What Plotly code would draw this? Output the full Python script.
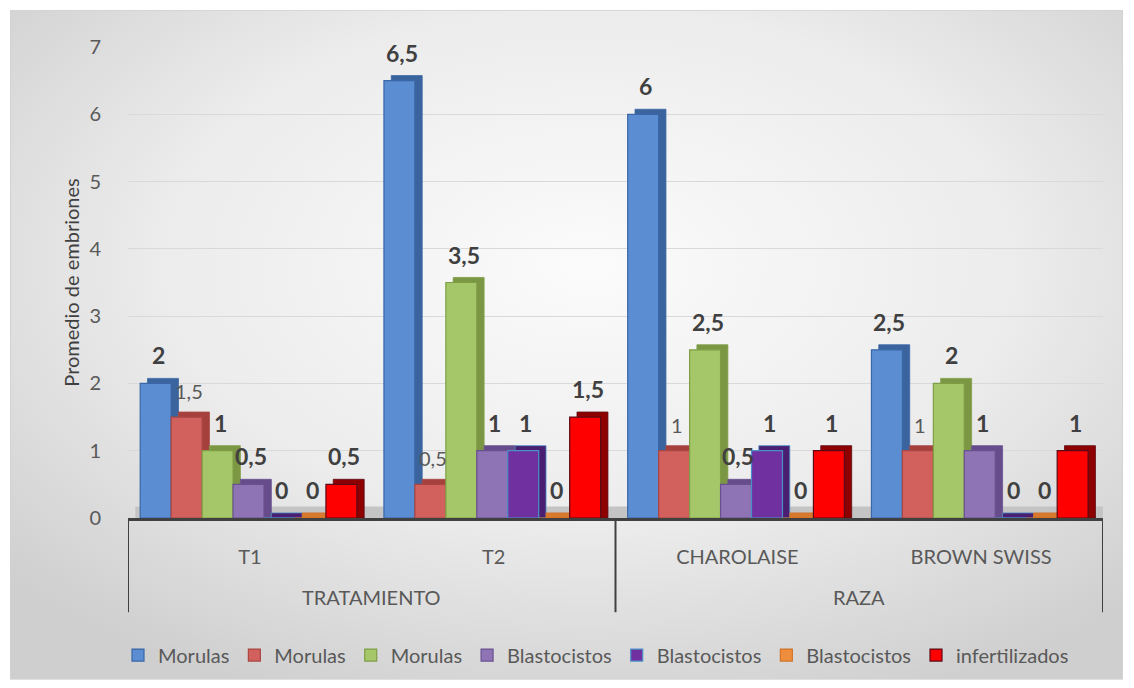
import base64
import plotly.graph_objects as go

# ---- data -------------------------------------------------------------
categories = ["T1", "T2", "CHAROLAISE", "BROWN SWISS"]
category_groups = ["TRATAMIENTO", "TRATAMIENTO", "RAZA", "RAZA"]

series_names = ["Morulas", "Morulas", "Morulas",
                "Blastocistos", "Blastocistos", "Blastocistos",
                "infertilizados"]

morulas_1 = [2, 6.5, 6, 2.5]
morulas_2 = [1.5, 0.5, 1, 1]
morulas_3 = [1, 3.5, 2.5, 2]
blastocistos_1 = [0.5, 1, 0.5, 1]
blastocistos_2 = [0, 1, 1, 0]
blastocistos_3 = [0, 0, 0, 0]
infertilizados = [0.5, 1.5, 1, 1]

series_values = [morulas_1, morulas_2, morulas_3,
                 blastocistos_1, blastocistos_2, blastocistos_3,
                 infertilizados]

y_ticks = [0, 1, 2, 3, 4, 5, 6, 7]

# ---- styling ----------------------------------------------------------
# (front fill, outline, side/depth face, label bold, label size, label colour)
styles = [
    ("#5B8DD3", "#3A67A6", "#3B649E", True, 23, "#404040"),
    ("#D2615E", "#A94643", "#A5403D", False, 20, "#595959"),
    ("#A6C66A", "#7E9E44", "#7C9743", True, 23, "#404040"),
    ("#8E74B5", "#6A5090", "#664C8A", True, 23, "#404040"),
    ("#7030A0", "#4A90C8", "#4A1E70", True, 23, "#404040"),
    ("#EE8D3E", "#D07428", "#D9792E", True, 23, "#404040"),
    ("#FF0000", "#5A0A14", "#8E0000", True, 23, "#404040"),
]

FONT = "Lato, 'Open Sans', sans-serif"
step = 0.127          # width of one bar in category units
start = -0.45         # left edge of first bar relative to category centre
depth_x = 0.03        # horizontal depth of the extrusion
depth_y = 0.075       # vertical depth of the extrusion

positions = list(range(len(categories)))


def fmt(v):
    return f"{v:g}".replace(".", ",")


fig = go.Figure()
annotations = []

for i, (name, vals) in enumerate(zip(series_names, series_values)):
    fill, line, side, bold, size, tcol = styles[i]
    off = start + i * step
    # depth face, drawn first so the next bar's front covers it
    fig.add_trace(go.Bar(
        x=positions, y=[v + depth_y for v in vals],
        offset=off + depth_x, width=step,
        marker=dict(color=side, line=dict(color=line, width=0.8)),
        showlegend=False, hoverinfo="skip",
    ))
    # front face
    fig.add_trace(go.Bar(
        x=positions, y=vals, name=name,
        offset=off, width=step,
        marker=dict(color=fill, line=dict(color=line, width=1.2)),
    ))
    for p, v in zip(positions, vals):
        txt = fmt(v)
        if bold:
            txt = f"<b>{txt}</b>"
        annotations.append(dict(
            x=p + off + step / 2 + 0.01, y=v, xref="x", yref="y",
            text=txt, showarrow=False, yanchor="bottom", yshift=12,
            font=dict(family=FONT, size=size, color=tcol),
        ))

# outer category labels, centred under their inner categories
seen = []
for g in category_groups:
    if g not in seen:
        seen.append(g)
for g in seen:
    idx = [p for p, cg in zip(positions, category_groups) if cg == g]
    annotations.append(dict(
        x=sum(idx) / len(idx), y=-0.168, xref="x", yref="paper",
        text=g, showarrow=False, yanchor="middle",
        font=dict(family=FONT, size=20, color="#595959"),
    ))

# dividers of the two-level category axis
shapes = []
bounds = [positions[0] - 0.5]
for k in range(1, len(positions)):
    if category_groups[k] != category_groups[k - 1]:
        bounds.append(positions[k] - 0.5)
bounds.append(positions[-1] + 0.5)
for b in bounds:
    shapes.append(dict(type="line", xref="x", yref="paper",
                       x0=b, x1=b, y0=0, y1=-0.2,
                       line=dict(color="#404040", width=2)))

# floor slab under the columns
shapes.append(dict(type="rect", xref="x", yref="y", layer="between",
                   x0=positions[0] + start - 0.02, x1=positions[-1] + 0.5,
                   y0=0, y1=0.17, fillcolor="#c4c4c4",
                   line=dict(width=0)))

# soft radial background for the whole chart area
svg = (
    '<svg xmlns="http://www.w3.org/2000/svg" width="1113" height="670" '
    'viewBox="0 0 1113 670" preserveAspectRatio="none">'
    '<defs><radialGradient id="g" cx="52%" cy="38%" r="70%">'
    '<stop offset="0" stop-color="#fbfbfb"/>'
    '<stop offset="0.55" stop-color="#ececec"/>'
    '<stop offset="1" stop-color="#cfcfcf"/>'
    '</radialGradient></defs>'
    '<rect x="0.5" y="0.5" width="1112" height="669" fill="url(#g)" '
    'stroke="#d2d2d2" stroke-width="1"/></svg>'
)
bg_src = "data:image/svg+xml;base64," + base64.b64encode(svg.encode()).decode()

fig.update_layout(
    width=1134, height=688,
    margin=dict(l=128, r=31, t=47, b=170),
    barmode="overlay",
    paper_bgcolor="white",
    plot_bgcolor="rgba(0,0,0,0)",
    font=dict(family=FONT, color="#595959"),
    images=[dict(source=bg_src, xref="paper", yref="paper",
                 x=-0.121, y=1.079, sizex=1.1415, sizey=1.4225,
                 xanchor="left", yanchor="top", sizing="stretch",
                 layer="below")],
    xaxis=dict(
        range=[positions[0] - 0.5, positions[-1] + 0.5],
        tickvals=positions, ticktext=categories,
        tickfont=dict(family=FONT, size=20, color="#595959"),
        ticks="", ticklabelstandoff=19,
        showgrid=False, zeroline=False,
        showline=True, linecolor="#404040", linewidth=2.5,
    ),
    yaxis=dict(
        range=[0, 7], tickvals=y_ticks,
        tickfont=dict(family=FONT, size=20, color="#595959"),
        ticklabelstandoff=26,
        showgrid=True, gridcolor="#d9d9d9", gridwidth=1,
        zeroline=False, showline=False,
        title=dict(text="Promedio de embriones", standoff=4,
                   font=dict(family=FONT, size=20, color="#404040")),
    ),
    legend=dict(
        orientation="h", x=0.48, xanchor="center", y=-0.291,
        yanchor="middle", bgcolor="rgba(0,0,0,0)",
        font=dict(family=FONT, size=20, color="#595959"),
        itemwidth=30, traceorder="normal",
    ),
    annotations=annotations,
    shapes=shapes,
    showlegend=True,
)

fig.write_html("out.html")
